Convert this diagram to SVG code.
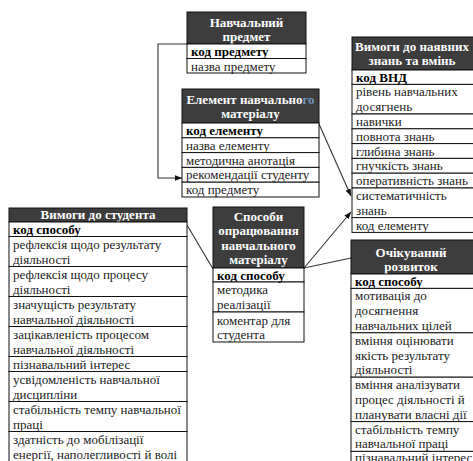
<svg xmlns="http://www.w3.org/2000/svg" width="473" height="461" viewBox="0 0 473 461">
<defs>
<style>
.hd{fill:#3d3d3d;stroke:#111;stroke-width:1}
.rw{fill:#fff;stroke:#111;stroke-width:1}
.ht{font-family:"Liberation Serif","Times New Roman",serif;font-size:13px;font-weight:bold;fill:#fff;text-anchor:middle}
.t{font-family:"Liberation Serif","Times New Roman",serif;font-size:13px;fill:#222}
.k{font-weight:bold;fill:#000}
.cn{fill:none;stroke:#333;stroke-width:1.1}
</style>
<marker id="ar" viewBox="0 0 10 10" refX="10" refY="5" markerWidth="7" markerHeight="7" orient="auto" markerUnits="userSpaceOnUse">
<path d="M0,1 L10,5 L0,9 z" fill="#111"/>
</marker>
</defs>
<rect width="473" height="461" fill="#fff"/>

<g id="connectors">
<path class="cn" d="M187,44 H158 V178 H182" marker-end="url(#ar)"/>
<path class="cn" d="M319,124 L351,196" marker-end="url(#ar)"/>
<path class="cn" d="M304,268 L351,212" marker-end="url(#ar)"/>
<path class="cn" d="M304,268 L351,258"/>
<path class="cn" d="M187,225 L213,269"/>
</g>

<g id="navchalnyi-predmet">
<rect class="hd" x="187" y="12" width="119" height="32"/>
<text class="ht" x="246.5" y="26.5">Навчальний</text>
<text class="ht" x="246.5" y="41">предмет</text>
<rect class="rw" x="187" y="44" width="119" height="14.5"/>
<rect class="rw" x="187" y="58.5" width="119" height="14.5"/>
<text class="t k" x="191" y="56">код предмету</text>
<text class="t" x="191" y="70.5">назва предмету</text>
</g>

<g id="element-materialu">
<rect class="hd" x="182" y="89" width="137" height="34"/>
<text class="ht" x="250.5" y="103.5">Елемент навчально<tspan fill="#6d93bd">го</tspan></text>
<text class="ht" x="250.5" y="118">матеріалу</text>
<rect class="rw" x="182" y="123" width="137" height="14.8"/>
<rect class="rw" x="182" y="137.8" width="137" height="14.8"/>
<rect class="rw" x="182" y="152.6" width="137" height="14.8"/>
<rect class="rw" x="182" y="167.4" width="137" height="14.8"/>
<rect class="rw" x="182" y="182.2" width="137" height="14.8"/>
<text class="t k" x="186" y="134.9">код елементу</text>
<text class="t" x="186" y="149.7">назва елементу</text>
<text class="t" x="186" y="164.5">методична анотація</text>
<text class="t" x="186" y="179.3">рекомендації студенту</text>
<text class="t" x="186" y="194.1">код предмету</text>
</g>

<g id="vymogy-znan">
<rect class="hd" x="352" y="37" width="125" height="33"/>
<text class="ht" x="412" y="50.5">Вимоги до наявних</text>
<text class="ht" x="412" y="65">знань та вмінь</text>
<rect class="rw" x="352" y="70" width="125" height="14.4"/>
<rect class="rw" x="352" y="84.4" width="125" height="29.6"/>
<rect class="rw" x="352" y="114" width="125" height="14.8"/>
<rect class="rw" x="352" y="128.8" width="125" height="14.8"/>
<rect class="rw" x="352" y="143.6" width="125" height="14.8"/>
<rect class="rw" x="352" y="158.4" width="125" height="14.8"/>
<rect class="rw" x="352" y="173.2" width="125" height="14.8"/>
<rect class="rw" x="352" y="188" width="125" height="29.6"/>
<rect class="rw" x="352" y="217.6" width="125" height="14.8"/>
<text class="t k" x="356" y="81.5">код ВНД</text>
<text class="t" x="356" y="96.3">рівень навчальних</text>
<text class="t" x="356" y="111.1">досягнень</text>
<text class="t" x="356" y="125.9">навички</text>
<text class="t" x="356" y="140.7">повнота знань</text>
<text class="t" x="356" y="155.5">глибина знань</text>
<text class="t" x="356" y="170.3">гнучкість знань</text>
<text class="t" x="356" y="185.1">оперативність знань</text>
<text class="t" x="356" y="199.9">систематичність</text>
<text class="t" x="356" y="214.7">знань</text>
<text class="t" x="356" y="229.5">код елементу</text>
</g>

<g id="ochikuvanyi-rozvytok">
<rect class="hd" x="351" y="240" width="126" height="34"/>
<text class="ht" x="411" y="256.5">Очікуваний</text>
<text class="ht" x="411" y="270.5">розвиток</text>
<rect class="rw" x="351" y="274" width="126" height="14.4"/>
<rect class="rw" x="351" y="288.4" width="126" height="44.4"/>
<rect class="rw" x="351" y="332.8" width="126" height="44.4"/>
<rect class="rw" x="351" y="377.2" width="126" height="44.4"/>
<rect class="rw" x="351" y="421.6" width="126" height="29.8"/>
<rect class="rw" x="351" y="451.4" width="126" height="20"/>
<text class="t k" x="355" y="285.5">код способу</text>
<text class="t" x="355" y="300.3">мотивація до</text>
<text class="t" x="355" y="315.1">досягнення</text>
<text class="t" x="355" y="329.9">навчальних цілей</text>
<text class="t" x="355" y="344.7">вміння оцінювати</text>
<text class="t" x="355" y="359.5">якість результату</text>
<text class="t" x="355" y="374.3">діяльності</text>
<text class="t" x="355" y="389.1">вміння аналізувати</text>
<text class="t" x="355" y="403.9">процес діяльності й</text>
<text class="t" x="355" y="418.7">планувати власні дії</text>
<text class="t" x="355" y="433.5">стабільність темпу</text>
<text class="t" x="355" y="448.3">навчальної праці</text>
<text class="t" x="355" y="462">пізнавальний інтерес</text>
</g>

<g id="vymogy-studenta">
<rect class="hd" x="9" y="208" width="178" height="14"/>
<text class="ht" x="98" y="219">Вимоги до студента</text>
<rect class="rw" x="9" y="222" width="178" height="14.5"/>
<rect class="rw" x="9" y="236.5" width="178" height="30"/>
<rect class="rw" x="9" y="266.5" width="178" height="30"/>
<rect class="rw" x="9" y="296.5" width="178" height="30"/>
<rect class="rw" x="9" y="326.5" width="178" height="30"/>
<rect class="rw" x="9" y="356.5" width="178" height="15"/>
<rect class="rw" x="9" y="371.5" width="178" height="30"/>
<rect class="rw" x="9" y="401.5" width="178" height="30"/>
<rect class="rw" x="9" y="431.5" width="178" height="38"/>
<text class="t k" x="13" y="233.5">код способу</text>
<text class="t" x="13" y="248.5">рефлексія щодо результату</text>
<text class="t" x="13" y="263.5">діяльності</text>
<text class="t" x="13" y="278.5">рефлексія щодо процесу</text>
<text class="t" x="13" y="293.5">діяльності</text>
<text class="t" x="13" y="308.5">значущість результату</text>
<text class="t" x="13" y="323.5">навчальної діяльності</text>
<text class="t" x="13" y="338.5">зацікавленість процесом</text>
<text class="t" x="13" y="353.5">навчальної діяльності</text>
<text class="t" x="13" y="368.5">пізнавальний інтерес</text>
<text class="t" x="13" y="383.5">усвідомленість навчальної</text>
<text class="t" x="13" y="398.5">дисципліни</text>
<text class="t" x="13" y="413.5">стабільність темпу навчальної</text>
<text class="t" x="13" y="428.5">праці</text>
<text class="t" x="13" y="443.5">здатність до мобілізації</text>
<text class="t" x="13" y="458.5">енергії, наполегливості й волі</text>
</g>

<g id="sposoby-opratsiuvannia">
<rect class="hd" x="213" y="207" width="91" height="61"/>
<text class="ht" x="258.5" y="220.5">Способи</text>
<text class="ht" x="258.5" y="235">опрацювання</text>
<text class="ht" x="258.5" y="249.5">навчального</text>
<text class="ht" x="258.5" y="264">матеріалу</text>
<rect class="rw" x="213" y="268" width="91" height="14"/>
<rect class="rw" x="213" y="282" width="91" height="30"/>
<rect class="rw" x="213" y="312" width="91" height="30"/>
<text class="t k" x="217" y="279.5">код способу</text>
<text class="t" x="217" y="294">методика</text>
<text class="t" x="217" y="308.5">реалізації</text>
<text class="t" x="217" y="324.5">коментар для</text>
<text class="t" x="217" y="339">студента</text>
</g>
</svg>
